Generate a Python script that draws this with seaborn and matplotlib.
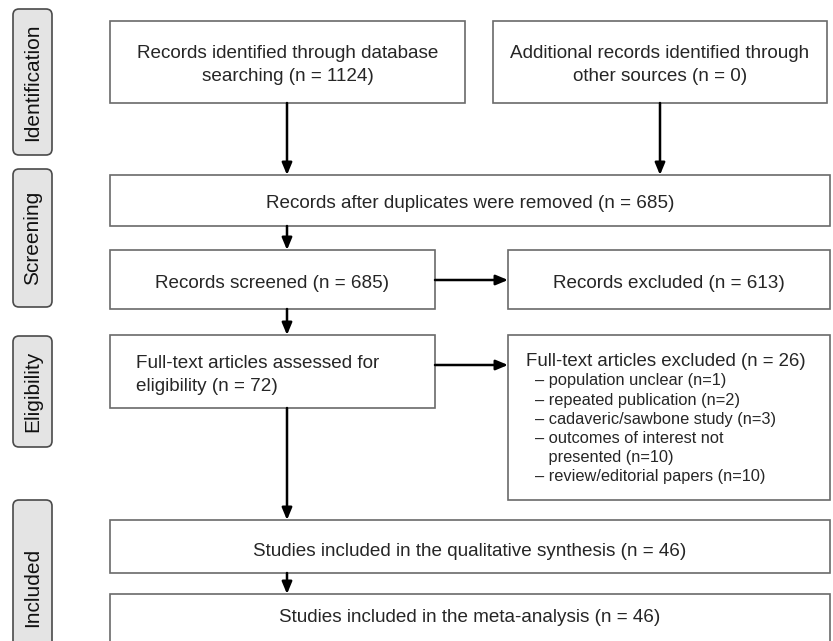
import matplotlib
matplotlib.use("Agg")
import matplotlib.pyplot as plt
from matplotlib.patches import Rectangle, FancyBboxPatch
from matplotlib import font_manager
import seaborn as sns

# ---------------- data ----------------
stage_names = ["Identification", "Screening", "Eligibility", "Included"]
n_database = 1124
n_other_sources = 0
n_after_duplicates = 685
n_screened = 685
n_records_excluded = 613
n_fulltext = 72
n_fulltext_excluded = 26
exclusion_reasons = ["population unclear", "repeated publication",
                     "cadaveric/sawbone study", "outcomes of interest not\npresented",
                     "review/editorial papers"]
exclusion_counts = [1, 2, 3, 10, 10]
n_qualitative = 46
n_meta = 46

# ---------------- style ----------------
sns.set_theme(style="white")
names = {f.name for f in font_manager.fontManager.ttflist}
main_font = "Liberation Sans" if "Liberation Sans" in names else "DejaVu Sans"
plt.rcParams["font.family"] = [main_font, "DejaVu Sans"]

fig = plt.figure(figsize=(8.33, 6.41), dpi=100)
ax = fig.add_axes([0, 0, 1, 1])
ax.set_xlim(0, 833)
ax.set_ylim(641, 0)
ax.axis("off")

EDGE = "#6a6a6a"
FS = 13.6
LS = 1.52
DY = 3  # small downward shift for visual centring


def box(x0, y0, x1, y1):
    ax.add_patch(Rectangle((x0, y0), x1 - x0, y1 - y0, facecolor="white",
                           edgecolor=EDGE, lw=1.2, zorder=2))


def arrow(x0, y0, x1, y1):
    ax.annotate("", xy=(x1, y1), xytext=(x0, y0),
                arrowprops=dict(arrowstyle="-|>,head_length=0.6,head_width=0.25",
                                color="black", lw=1.8, shrinkA=0, shrinkB=0),
                zorder=3)


# side stage labels
stage_spans = [(9, 155), (169, 307), (336, 447), (500, 648)]
label_centers = [82, 238, 391, 587]
for name, (y0, y1), yc in zip(stage_names, stage_spans, label_centers):
    ax.add_patch(FancyBboxPatch((13, y0), 39, y1 - y0,
                                boxstyle="round,pad=0,rounding_size=6",
                                facecolor="#e4e4e4", edgecolor="#4a4a4a",
                                lw=1.2, zorder=2))
    ax.text(33, yc, name, rotation=90, ha="center", va="center",
            fontsize=15, color="#111111", zorder=3)

# boxes
box(110, 21, 465, 103)
box(493, 21, 827, 103)
box(110, 175, 830, 226)
box(110, 250, 435, 309)
box(508, 250, 830, 309)
box(110, 335, 435, 408)
box(508, 335, 830, 500)
box(110, 520, 830, 573)
box(110, 594, 830, 660)

# texts
ax.text(287.5, 62 + DY, f"Records identified through database\nsearching (n = {n_database})",
        ha="center", va="center", fontsize=FS, linespacing=LS, zorder=4)
ax.text(660, 62 + DY, f"Additional records identified through\nother sources (n = {n_other_sources})",
        ha="center", va="center", fontsize=FS, linespacing=LS, zorder=4)
ax.text(470, 200 + DY, f"Records after duplicates were removed (n = {n_after_duplicates})",
        ha="center", va="center", fontsize=FS, zorder=4)
ax.text(272, 280 + DY, f"Records screened (n = {n_screened})",
        ha="center", va="center", fontsize=FS, zorder=4)
ax.text(669, 280 + DY, f"Records excluded (n = {n_records_excluded})",
        ha="center", va="center", fontsize=FS, zorder=4)
ax.text(136, 372 + DY, f"Full-text articles assessed for\neligibility (n = {n_fulltext})",
        ha="left", va="center", fontsize=FS, linespacing=LS, zorder=4)
ax.text(526, 360 + 1, f"Full-text articles excluded (n = {n_fulltext_excluded})",
        ha="left", va="center", fontsize=13.4, zorder=4)
y = 381
for reason, cnt in zip(exclusion_reasons, exclusion_counts):
    lines = reason.split("\n")
    for i, ln in enumerate(lines):
        last = i == len(lines) - 1
        txt = ("– " if i == 0 else "   ") + ln + (f" (n={cnt})" if last else "")
        ax.text(535, y, txt, ha="left", va="center", fontsize=11.8, zorder=4)
        y += 19.2
ax.text(470, 548 + DY, f"Studies included in the qualitative synthesis (n = {n_qualitative})",
        ha="center", va="center", fontsize=FS, zorder=4)
ax.text(470, 615 + DY, f"Studies included in the meta-analysis (n = {n_meta})",
        ha="center", va="center", fontsize=FS, zorder=4)

# arrows
arrow(287, 103, 287, 175)
arrow(660, 103, 660, 175)
arrow(287, 226, 287, 250)
arrow(435, 280, 508, 280)
arrow(287, 309, 287, 335)
arrow(435, 365, 508, 365)
arrow(287, 408, 287, 520)
arrow(287, 573, 287, 594)

fig.savefig("out.png", dpi=100)
